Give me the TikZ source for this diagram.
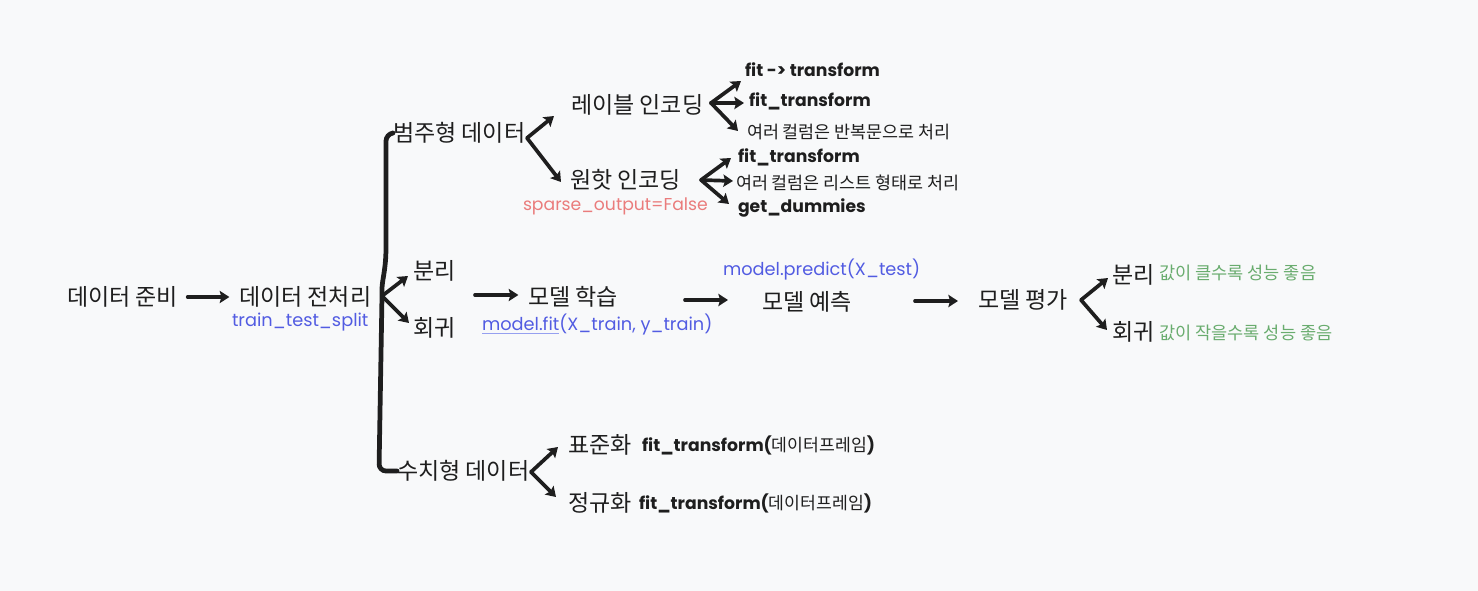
\documentclass[tikz,border=0pt]{standalone}
\usepackage{fontspec}
\setmainfont{Noto Sans CJK KR}
\newfontfamily\code{Poppins}
\usetikzlibrary{arrows.meta}
\definecolor{bg}{RGB}{248,249,250}
\definecolor{ink}{RGB}{30,30,30}
\definecolor{cblue}{RGB}{82,92,226}
\definecolor{lblue}{RGB}{150,160,240}
\definecolor{cred}{RGB}{234,124,124}
\definecolor{cgreen}{RGB}{105,172,110}
\tikzset{
  lbl/.style={anchor=west,inner sep=0pt,outer sep=0pt,text=ink},
  main/.style={lbl,font=\fontsize{13.1}{15}\selectfont},
  sub/.style={lbl,font=\fontsize{9.9}{12}\selectfont},
  cd/.style={lbl,font=\code\bfseries\fontsize{9.8}{11}\selectfont},
  bl/.style={lbl,text=cblue,font=\code\fontsize{10.1}{12}\selectfont},
  rd/.style={lbl,text=cred,font=\code\fontsize{9.8}{11}\selectfont},
  gr/.style={lbl,text=cgreen,font=\fontsize{10}{12}\selectfont},
  arr/.style={draw=ink,line width=2.1pt,line cap=round,-{Stealth[length=5.5pt,width=7pt,inset=1pt]}},
  brace/.style={draw=ink,line width=2.7pt,rounded corners=4pt,line cap=round},
}
\begin{document}
\begin{tikzpicture}[x=0.02cm,y=-0.02cm]
\fill[bg] (0,0) rectangle (1478,591);
\useasboundingbox (0,0) rectangle (1478,591);

% main row
\node[main] (ready) at (67,297) {데이터 준비};
\node[main] (prep) at (239,297) {데이터 전처리};
\node[bl] (tts) at (232,322) {train\_test\_split};
\node[main] (train) at (528,297) {모델 학습};
\node[bl] (fitc) at (482,325) {\rlap{\color{lblue}\underline{\phantom{model.fit}}}model.fit(X\_train, y\_train)};
\node[main] (pred) at (762,302) {모델 예측};
\node[bl] (predc) at (723,270) {model.predict(X\_test)};
\node[main] (eval) at (978,300) {모델 평가};

% preprocessing branches
\node[main] (cat) at (393,133) {범주형 데이터};
\node[main] (cls1) at (413,271) {분리};
\node[main] (reg1) at (413,328) {회귀};
\node[main] (num) at (397,471) {수치형 데이터};

% categorical
\node[main] (lab) at (571,105) {레이블 인코딩};
\node[main] (oh) at (570,180) {원핫 인코딩};
\node[rd] (sparse) at (523,206) {sparse\_output=False};
\node[cd] (l1) at (745,70) {fit -> transform};
\node[cd] (l2) at (749,101) {fit\_transform};
\node[sub] (l3) at (747,132) {여러 컬럼은 반복문으로 처리};
\node[cd] (o1) at (738,157) {fit\_transform};
\node[sub] (o2) at (736,183) {여러 컬럼은 리스트 형태로 처리};
\node[cd] (o3) at (738,208) {get\_dummies};

% numerical
\node[main] (std) at (568,445) {표준화};
\node[cd] (s1) at (642,445) {fit\_transform({\normalfont 데이터프레임})};
\node[main] (nrm) at (568,503) {정규화};
\node[cd] (s2) at (639,503) {fit\_transform({\normalfont 데이터프레임})};

% evaluation
\node[main] (cls2) at (1112,275) {분리};
\node[gr] (g1) at (1159,273) {값이 클수록 성능 좋음};
\node[main] (reg2) at (1112,332) {회귀};
\node[gr] (g2) at (1159,333) {값이 작을수록 성능 좋음};

% straight arrows
\draw[arr,shorten <=5.5pt,shorten >=5.5pt] (ready.east) -- (prep.west);
\coordinate (ta) at (475,295);
\draw[arr,shorten >=5.5pt] (ta) -- (ta -| train.west);
\coordinate (pa) at (685,300);
\coordinate (pe) at (728,300);
\draw[arr] (pa) -- (pe);
\coordinate (ea) at (915,301);
\coordinate (ee) at (958,301);
\draw[arr] (ea) -- (ee);

% brace
\coordinate (bm) at (382,296);
\draw[brace] (cat.west) -- (386,134) -- (386,240) .. controls (386,270) and (382,280) .. (bm) -- (379,471) -- (num.west);
\coordinate (b1) at (408,276);
\coordinate (b2) at (409,323);
\draw[arr] (bm) -- (b1);
\draw[arr] (bm) -- (b2);

% categorical fans
\coordinate (cf) at (527,138);
\coordinate (c1) at (554,116);
\coordinate (c2) at (561,182);
\draw[arr] (cf) -- (c1);
\draw[arr] (cf) -- (c2);
\coordinate (lf) at (711,103);
\coordinate (le1) at (741,81);
\coordinate (le2) at (744,103);
\coordinate (le3) at (738,131);
\draw[arr] (lf) -- (le1);
\draw[arr] (lf) -- (le2);
\draw[arr] (lf) -- (le3);
\coordinate (of) at (701,180);
\coordinate (oe1) at (731,158);
\coordinate (oe2) at (733,181);
\coordinate (oe3) at (729,204);
\draw[arr] (of) -- (oe1);
\draw[arr] (of) -- (oe2);
\draw[arr] (of) -- (oe3);

% numerical fan
\coordinate (nf) at (531,472);
\coordinate (ne1) at (558,447);
\coordinate (ne2) at (556,497);
\draw[arr] (nf) -- (ne1);
\draw[arr] (nf) -- (ne2);

% evaluation fan
\coordinate (vf) at (1081,300);
\coordinate (ve1) at (1108,278);
\coordinate (ve2) at (1107,330);
\draw[arr] (vf) -- (ve1);
\draw[arr] (vf) -- (ve2);
\end{tikzpicture}
\end{document}
